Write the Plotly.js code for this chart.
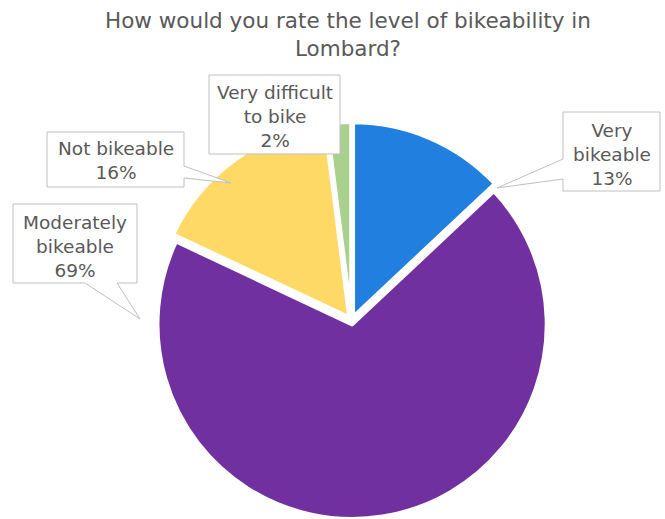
<!DOCTYPE html>
<html>
<head>
<meta charset="utf-8">
<script src="https://cdn.plot.ly/plotly-3.0.1.min.js"></script>
<style>html,body{margin:0;padding:0;background:#fff;}#chart{width:665px;height:519px;}</style>
</head>
<body>
<div id="chart"></div>
<script>
// ---- data ----
const categories = ['Very bikeable', 'Moderately bikeable', 'Not bikeable', 'Very difficult to bike'];
const values = [13, 69, 16, 2];
const labelLines = ['Very<br>bikeable', 'Moderately<br>bikeable', 'Not bikeable', 'Very difficult<br>to bike'];
const sliceColors = ['#2180DF', '#7030A0', '#FFD966', '#A9D18E'];
const titleText = 'How would you rate the level of bikeability in<br>Lombard?';

// ---- layout helpers (pixel -> paper) ----
const W = 665, H = 519;
const px = x => x / W;
const py = y => 1 - y / H;

// callout geometry in pixels: box [x0,y0,x1,y1], text centre, pointer polygon (or null)
const callouts = [
  {box: [563, 112, 660, 191], c: [611.5, 154], ptr: {side: 'left', pts: [[563, 159], [497, 188], [563, 179]]}},
  {box: [13, 204, 137, 283], c: [75, 246], ptr: {side: 'bottom', pts: [[85, 283], [140, 319], [117, 283]]}},
  {box: [47, 132, 184, 187], c: [115.5, 161], ptr: {side: 'right', pts: [[184, 166], [231, 183], [184, 178]]}},
  {box: [209, 75, 340, 154], c: [274.5, 116], ptr: null}
];

function calloutPath(co) {
  const [x0, y0, x1, y1] = co.box;
  let pts;
  const p = co.ptr;
  if (!p) {
    pts = [[x0, y0], [x1, y0], [x1, y1], [x0, y1]];
  } else if (p.side === 'left') {
    pts = [[x0, y0], [x1, y0], [x1, y1], [x0, y1], p.pts[2], p.pts[1], p.pts[0]];
  } else if (p.side === 'right') {
    pts = [[x0, y0], [x1, y0], p.pts[0], p.pts[1], p.pts[2], [x1, y1], [x0, y1]];
  } else { // bottom
    pts = [[x0, y0], [x1, y0], [x1, y1], p.pts[2], p.pts[1], p.pts[0], [x0, y1]];
  }
  return 'M' + pts.map(q => px(q[0]).toFixed(5) + ',' + py(q[1]).toFixed(5)).join(' L') + ' Z';
}

const shapes = callouts.map(co => ({
  type: 'path', xref: 'paper', yref: 'paper', layer: 'above',
  path: calloutPath(co),
  fillcolor: '#FFFFFF',
  line: {color: '#BFBFBF', width: 1}
}));

const annotations = callouts.map((co, i) => ({
  xref: 'paper', yref: 'paper', x: px(co.c[0]), y: py(co.c[1]),
  xanchor: 'center', yanchor: 'middle', showarrow: false, align: 'center',
  text: labelLines[i] + '<br>' + values[i] + '%',
  font: {family: 'DejaVu Sans', size: 18.5, color: '#595959'}
}));

// pie domain: centre (351.5, 321), half size 199 px
const cx = 351.5, cy = 321, R = 199;

const trace = {
  type: 'pie',
  labels: categories,
  values: values,
  sort: false,
  direction: 'clockwise',
  rotation: 0,
  pull: 0.02,
  textinfo: 'none',
  hoverinfo: 'label+percent',
  showlegend: false,
  marker: {colors: sliceColors, line: {color: '#FFFFFF', width: 4}},
  domain: {x: [px(cx - R), px(cx + R)], y: [Math.max(0, py(cy + R)), py(cy - R)]}
};

const layout = {
  width: W, height: H,
  margin: {l: 0, r: 0, t: 0, b: 0},
  paper_bgcolor: '#FFFFFF',
  plot_bgcolor: '#FFFFFF',
  title: {
    text: titleText,
    x: 348 / W, xanchor: 'center', xref: 'paper',
    y: 1 - 28 / H, yanchor: 'top', yref: 'container',
    font: {family: 'DejaVu Sans', size: 21.5, color: '#595959'}
  },
  shapes: shapes,
  annotations: annotations
};

Plotly.newPlot('chart', [trace], layout, {displayModeBar: false, staticPlot: true});
</script>
</body>
</html>
